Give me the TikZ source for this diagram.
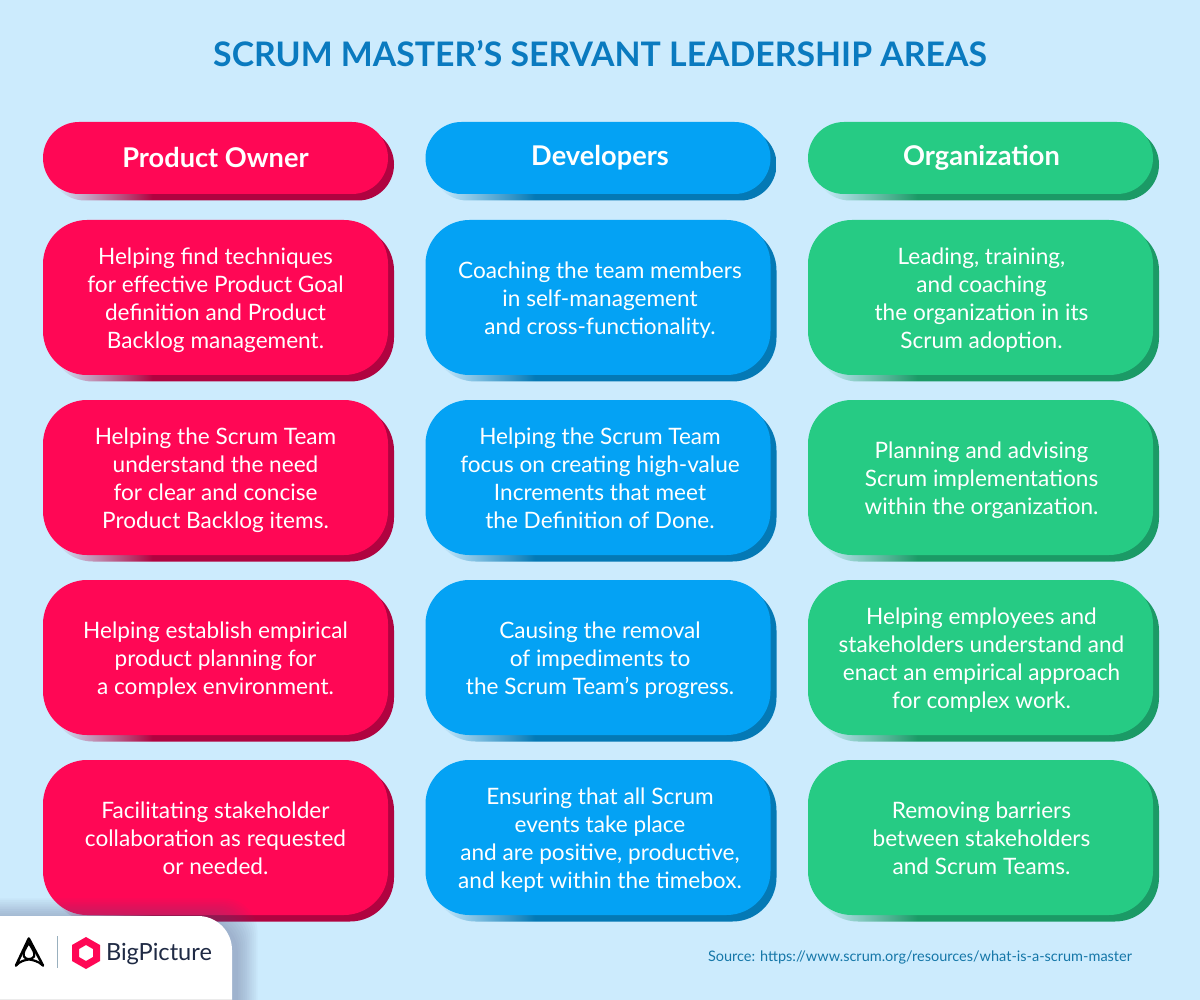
\documentclass[tikz,border=0pt]{standalone}
\usepackage{fontspec}
\setmainfont{Lato}
\definecolor{bgc}{HTML}{CCEBFD}
\definecolor{pinkc}{HTML}{FF0755}
\definecolor{pinkd}{HTML}{B00340}
\definecolor{bluec}{HTML}{04A2F4}
\definecolor{blued}{HTML}{0479B5}
\definecolor{greenc}{HTML}{26CB84}
\definecolor{greend}{HTML}{1B9A66}
\definecolor{titlec}{HTML}{0A7ABF}
\definecolor{srcc}{HTML}{1577A8}
\definecolor{inkc}{HTML}{1F2A44}
\pgfdeclarehorizontalshading{pinkshade}{100bp}{color(0bp)=(bgc);color(26bp)=(bgc);color(40bp)=(pinkd);color(100bp)=(pinkd)}
\pgfdeclarehorizontalshading{blueshade}{100bp}{color(0bp)=(bgc);color(26bp)=(bgc);color(40bp)=(blued);color(100bp)=(blued)}
\pgfdeclarehorizontalshading{greenshade}{100bp}{color(0bp)=(bgc);color(26bp)=(bgc);color(40bp)=(greend);color(100bp)=(greend)}
\tikzset{
  every node/.style={inner sep=0pt,outer sep=0pt},
  headtext/.style={align=center,text=white,font=\fontsize{27.2}{30}\selectfont\bfseries},
  cardtext/.style={align=center,text=white,yshift=-4.8pt,font=\fontsize{22.6}{27.8}\selectfont,
    execute at begin node=\strut,execute at end node=\strut},
}
% true circular corners: x, y, w, h, r
\newcommand\softbox[5]{%
  (#1+#5,#2) -- (#1+#3-#5,#2)
  .. controls (#1+#3-0.4477*#5,#2) and (#1+#3,#2+0.4477*#5) .. (#1+#3,#2+#5)
  -- (#1+#3,#2+#4-#5)
  .. controls (#1+#3,#2+#4-0.4477*#5) and (#1+#3-0.4477*#5,#2+#4) .. (#1+#3-#5,#2+#4)
  -- (#1+#5,#2+#4)
  .. controls (#1+0.4477*#5,#2+#4) and (#1,#2+#4-0.4477*#5) .. (#1,#2+#4-#5)
  -- (#1,#2+#5)
  .. controls (#1,#2+0.4477*#5) and (#1+0.4477*#5,#2) .. (#1+#5,#2) -- cycle}
% name, x, y, h, radius, colour family, text style, text dx, text
\newcommand\pillar[9]{%
  \path[shading=#6shade] \softbox{#2+6}{#3+6.5}{345}{#4}{#5};
  \fill[#6c] \softbox{#2}{#3}{345}{#4}{#5};
  \node[#7,xshift=#8pt] (#1) at (#2+172.5,#3+#4/2) {#9};
}
\begin{document}
\begin{tikzpicture}[x=1pt,y=-1pt]
\useasboundingbox (0,0) rectangle (1200,1000);
\fill[bgc] (0,0) rectangle (1200,1000);
\node[font=\fontsize{33.8}{38}\selectfont\bfseries,text=titlec] (title) at (600,53.5) {SCRUM MASTER’S SERVANT LEADERSHIP AREAS};

\pillar{h1}{43}{122}{72}{36}{pink}{headtext}{0}{Product Owner}
\pillar{h2}{425.5}{122}{72}{36}{blue}{headtext}{2}{Developers}
\pillar{h3}{808}{122}{72}{36}{green}{headtext}{1}{Organization}

\pillar{a1}{43}{220}{155}{44}{pink}{cardtext}{0}{Helping find techniques\\for effective Product Goal\\definition and Product\\Backlog management.}
\pillar{a2}{43}{400}{155}{44}{pink}{cardtext}{0}{Helping the Scrum Team\\understand the need\\for clear and concise\\Product Backlog items.}
\pillar{a3}{43}{580}{155}{44}{pink}{cardtext}{0}{Helping establish empirical\\product planning for\\a complex environment.}
\pillar{a4}{43}{760}{155}{44}{pink}{cardtext}{0}{Facilitating stakeholder\\collaboration as requested\\or needed.}

\pillar{b1}{425.5}{220}{155}{44}{blue}{cardtext}{2}{Coaching the team members\\in self-management\\and cross-functionality.}
\pillar{b2}{425.5}{400}{155}{44}{blue}{cardtext}{2}{Helping the Scrum Team\\focus on creating high-value\\Increments that meet\\the Definition of Done.}
\pillar{b3}{425.5}{580}{155}{44}{blue}{cardtext}{2}{Causing the removal\\of impediments to\\the Scrum Team’s progress.}
\pillar{b4}{425.5}{760}{155}{44}{blue}{cardtext}{2}{Ensuring that all Scrum\\events take place\\and are positive, productive,\\and kept within the timebox.}

\pillar{c1}{808}{220}{155}{44}{green}{cardtext}{1}{Leading, training,\\and coaching\\the organization in its\\Scrum adoption.}
\pillar{c2}{808}{400}{155}{44}{green}{cardtext}{1}{Planning and advising\\Scrum implementations\\within the organization.}
\pillar{c3}{808}{580}{155}{44}{green}{cardtext}{1}{Helping employees and\\stakeholders understand and\\enact an empirical approach\\for complex work.}
\pillar{c4}{808}{760}{155}{44}{green}{cardtext}{1}{Removing barriers\\between stakeholders\\and Scrum Teams.}

% logo panel with soft shadow
\foreach \i in {1,...,12}{
  \fill[fill=black!45!blue!30!gray,fill opacity=0.035] \softbox{-60}{920-1.8*\i}{296+1.8*\i}{200}{34};
}
\fill[white] \softbox{-60}{916}{292}{200}{34};
\fill[black!8] (0,998.5) rectangle (232,1000);

% triangular mark
\draw[black,line width=2.5pt,line join=round,line cap=round]
  (28.8,938.5) -- (16,965.5) (28.8,938.5) -- (43,965.5);
\draw[black,line width=2.2pt,line join=round,line cap=round]
  (28.8,943) .. controls (25,949) and (22.5,953) .. (24,956.5) .. controls (25.5,960) and (32,960) .. (34,956.5) .. controls (35.5,953) and (32.5,949) .. (28.8,943)
  (16,965.5) .. controls (20,961) and (25,960) .. (29,959.5) .. controls (33,960) and (38,961) .. (43,965.5);
\draw[black!25!bgc,line width=1pt] (57,936) -- (57,968);
% hexagon mark
\fill[pinkc,even odd rule] (86,937) -- (100,945) -- (100,961) -- (86,969) -- (72,961) -- (72,945) -- cycle
  (86,945) -- (93,949) -- (93,957) -- (86,961) -- (79,957) -- (79,949) -- cycle;
\node[anchor=west,font=\fontsize{23.6}{28}\selectfont,text=inkc] (brand) at (106,954) {BigPicture};

\node[anchor=west,font=\fontsize{14.5}{18}\selectfont,text=srcc] (source) at (708,957) {Source: https://www.scrum.org/resources/what-is-a-scrum-master};
\end{tikzpicture}
\end{document}
